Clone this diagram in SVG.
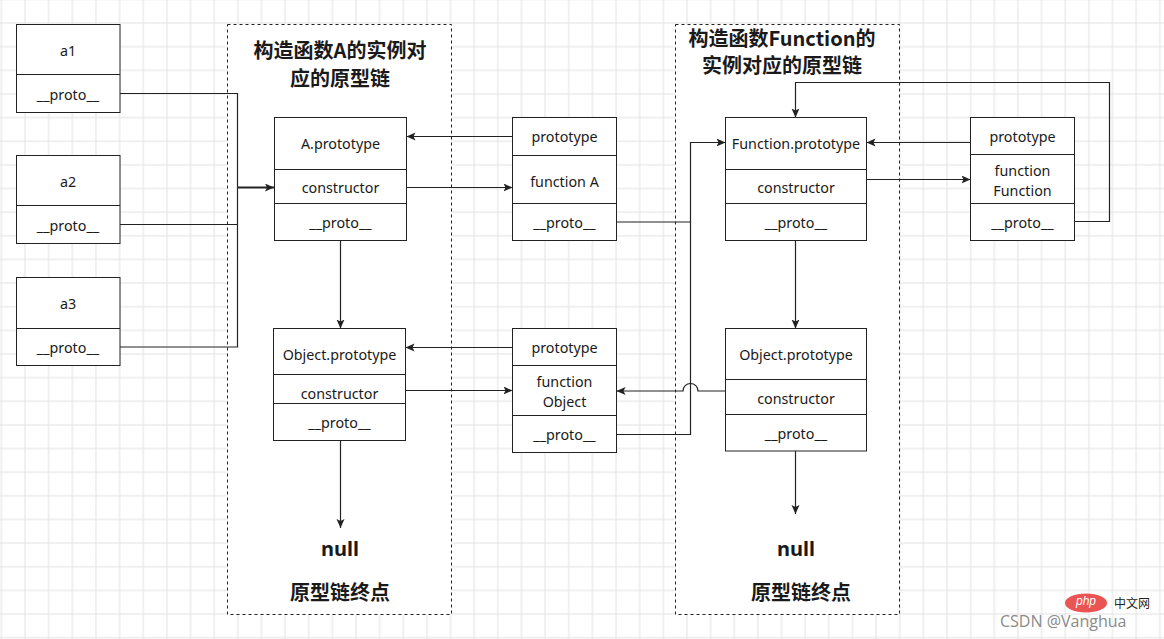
<svg xmlns="http://www.w3.org/2000/svg" width="1164" height="639" viewBox="0 0 1164 639">
<style>
.box{fill:#fff;stroke:#222;stroke-width:1}
.div{stroke:#222;stroke-width:1}
.t{font-family:"Noto Sans","Open Sans",sans-serif;font-size:14.3px;fill:#1a1a1a;text-anchor:middle;dominant-baseline:central}
.h{font-family:"Noto Sans CJK SC","Noto Sans",sans-serif;font-size:20px;font-weight:bold;fill:#1a1a1a;text-anchor:middle;dominant-baseline:central}
.null{font-family:"Noto Sans","Open Sans",sans-serif;font-size:20px;font-weight:bold;fill:#1a1a1a;text-anchor:middle;dominant-baseline:central}
.frame{fill:#fff;stroke:#222;stroke-width:1;stroke-dasharray:3 3}
.c{fill:none;stroke:#222;stroke-width:1.2}
.ca{fill:none;stroke:#222;stroke-width:1.2;marker-end:url(#arr)}
</style>
<defs>
<pattern id="grid" x="-10.42" y="-12.42" width="23.64" height="23.64" patternUnits="userSpaceOnUse">
<path d="M11.82,0 V23.64 M0,11.82 H23.64" stroke="#e2e2e2" stroke-width="1" fill="none"/>
</pattern>
<marker id="arr" markerUnits="userSpaceOnUse" markerWidth="10" markerHeight="10" refX="9" refY="4" orient="auto">
<path d="M0,0 L9,4 L0,8 L2,4 z" fill="#222"/>
</marker>
</defs>
<rect x="0" y="0" width="1164" height="639" fill="#fff"/>
<rect x="0" y="0" width="1164" height="639" fill="url(#grid)"/>

<g id="frame-left">
<rect class="frame" x="227.5" y="24.5" width="224" height="590"/>
<text class="h" x="340" y="49">构造函数A的实例对</text>
<text class="h" x="340" y="77">应的原型链</text>
<text class="null" x="340" y="548">null</text>
<text class="h" x="340" y="591">原型链终点</text>
</g>
<g id="frame-right">
<rect class="frame" x="675.5" y="24.5" width="224" height="590"/>
<text class="h" x="782" y="37">构造函数Function的</text>
<text class="h" x="782" y="64">实例对应的原型链</text>
<text class="null" x="796" y="548">null</text>
<text class="h" x="801" y="591">原型链终点</text>
</g>

<g id="connectors">
<path class="c" d="M120,93.5 H237.5 V187.5"/>
<path class="c" d="M120,224.5 H237.5"/>
<path class="c" d="M120,347 H237.5 V187.5"/>
<path class="ca" d="M237.5,187.5 H274" style="stroke-width:2.2"/>
<path class="ca" d="M512.5,136.5 H406.5"/>
<path class="ca" d="M406.5,187.5 H512.5"/>
<path class="ca" d="M616.5,222 H690.5 V142.5 H725.5"/>
<path class="c" d="M616.5,434.5 H690.5 V222"/>
<path class="ca" d="M970.5,142.5 H866.5"/>
<path class="ca" d="M866.5,179.5 H970.5"/>
<path class="ca" d="M1074.5,221.5 H1109.5 V82.5 H795.5 V117.5"/>
<path class="ca" d="M795.5,240.5 V328.5"/>
<path class="ca" d="M795.5,451 V514"/>
<path class="ca" d="M725.5,391 H698 A7.5,7.5 0 0 0 683,391 H616.5"/>
<path class="ca" d="M512.5,347.5 H405.5"/>
<path class="ca" d="M405.5,390.5 H512.5"/>
<path class="ca" d="M340.5,240.5 V328.5"/>
<path class="ca" d="M340.5,440.5 V528"/>
</g>

<g id="a1">
<rect class="box" x="16.5" y="24.5" width="103.5" height="88"/>
<line class="div" x1="16.5" y1="74.5" x2="120" y2="74.5"/>
<text class="t" x="68" y="50">a1</text>
<text class="t" x="68" y="94">__proto__</text>
</g>
<g id="a2">
<rect class="box" x="16.5" y="155.5" width="103.5" height="88"/>
<line class="div" x1="16.5" y1="205.5" x2="120" y2="205.5"/>
<text class="t" x="68" y="181">a2</text>
<text class="t" x="68" y="225">__proto__</text>
</g>
<g id="a3">
<rect class="box" x="16.5" y="277.5" width="103.5" height="88"/>
<line class="div" x1="16.5" y1="328.5" x2="120" y2="328.5"/>
<text class="t" x="68" y="303">a3</text>
<text class="t" x="68" y="347">__proto__</text>
</g>

<g id="A-prototype">
<rect class="box" x="274.5" y="117.5" width="132" height="123"/>
<line class="div" x1="274.5" y1="169.5" x2="406.5" y2="169.5"/>
<line class="div" x1="274.5" y1="203.5" x2="406.5" y2="203.5"/>
<text class="t" x="340.5" y="143.5">A.prototype</text>
<text class="t" x="340.5" y="187.5">constructor</text>
<text class="t" x="340.5" y="222.5">__proto__</text>
</g>
<g id="function-A">
<rect class="box" x="512.5" y="117.5" width="104" height="123"/>
<line class="div" x1="512.5" y1="155.5" x2="616.5" y2="155.5"/>
<line class="div" x1="512.5" y1="203.5" x2="616.5" y2="203.5"/>
<text class="t" x="564.5" y="136.5">prototype</text>
<text class="t" x="564.5" y="181">function A</text>
<text class="t" x="564.5" y="222.5">__proto__</text>
</g>
<g id="Object-prototype-left">
<rect class="box" x="273.5" y="328.5" width="132" height="112"/>
<line class="div" x1="273.5" y1="374.5" x2="405.5" y2="374.5"/>
<line class="div" x1="273.5" y1="403.5" x2="405.5" y2="403.5"/>
<text class="t" x="339.5" y="354.5">Object.prototype</text>
<text class="t" x="339.5" y="393.5">constructor</text>
<text class="t" x="339.5" y="422.5">__proto__</text>
</g>
<g id="function-Object">
<rect class="box" x="512.5" y="328.5" width="104" height="124"/>
<line class="div" x1="512.5" y1="365.5" x2="616.5" y2="365.5"/>
<line class="div" x1="512.5" y1="415.5" x2="616.5" y2="415.5"/>
<text class="t" x="564.5" y="347.5">prototype</text>
<text class="t" x="564.5" y="381.5">function</text>
<text class="t" x="564.5" y="401">Object</text>
<text class="t" x="564.5" y="434.5">__proto__</text>
</g>
<g id="Function-prototype">
<rect class="box" x="725.5" y="117.5" width="141" height="123"/>
<line class="div" x1="725.5" y1="169.5" x2="866.5" y2="169.5"/>
<line class="div" x1="725.5" y1="203.5" x2="866.5" y2="203.5"/>
<text class="t" x="796" y="143.5">Function.prototype</text>
<text class="t" x="796" y="187.5">constructor</text>
<text class="t" x="796" y="222.5">__proto__</text>
</g>
<g id="function-Function">
<rect class="box" x="970.5" y="117.5" width="104" height="123"/>
<line class="div" x1="970.5" y1="154.5" x2="1074.5" y2="154.5"/>
<line class="div" x1="970.5" y1="203.5" x2="1074.5" y2="203.5"/>
<text class="t" x="1022.5" y="136">prototype</text>
<text class="t" x="1022.5" y="170">function</text>
<text class="t" x="1022.5" y="190">Function</text>
<text class="t" x="1022.5" y="222.5">__proto__</text>
</g>
<g id="Object-prototype-right">
<rect class="box" x="725.5" y="328.5" width="141" height="122.5"/>
<line class="div" x1="725.5" y1="379.5" x2="866.5" y2="379.5"/>
<line class="div" x1="725.5" y1="414.5" x2="866.5" y2="414.5"/>
<text class="t" x="796" y="354.5">Object.prototype</text>
<text class="t" x="796" y="398.5">constructor</text>
<text class="t" x="796" y="433">__proto__</text>
</g>

<g id="watermark">
<ellipse cx="1086" cy="603" rx="21" ry="9.5" fill="#e8413f" opacity="0.9"/>
<text x="1086" y="601" font-family="'Liberation Sans',sans-serif" font-size="12" font-style="italic" fill="#fff" text-anchor="middle" dominant-baseline="central">php</text>
<text x="1132" y="602" font-family="'Noto Sans CJK SC',sans-serif" font-size="12" fill="#222" text-anchor="middle" dominant-baseline="central">中文网</text>
<text x="1000" y="621" font-family="'Open Sans','Noto Sans',sans-serif" font-size="16" fill="#8a8a8a" dominant-baseline="central">CSDN @Vanghua</text>
</g>
</svg>
